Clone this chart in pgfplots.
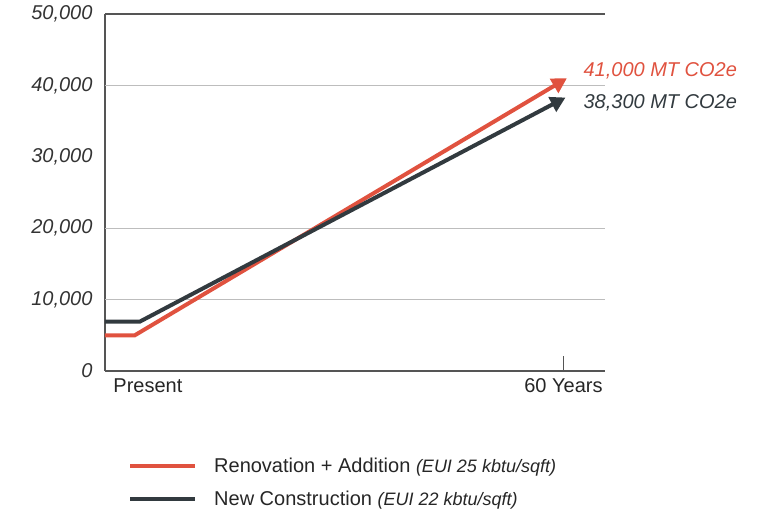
\documentclass[border=0pt]{standalone}
\usepackage{fontspec}
\setmainfont{Liberation Sans}
\usepackage{pgfplots}
\pgfplotsset{compat=1.18}
\usetikzlibrary{arrows.meta}

\definecolor{renred}{HTML}{E0523F}
\definecolor{newdark}{HTML}{323A3F}
\definecolor{gridgray}{HTML}{BDBDBD}
\definecolor{axisgray}{HTML}{555555}

\begin{document}
\begin{tikzpicture}
\begin{axis}[
  name=ax,
  scale only axis,
  width=500pt, height=357pt,
  xmin=-6.2, xmax=66, ymin=0, ymax=50000,
  axis x line=bottom, axis y line=left,
  axis line style={axisgray, line width=1.5pt, -},
  xtick={0,60}, xticklabels={Present,60 Years},
  x tick label style={font=\fontsize{20}{24}\selectfont, text=black!85, yshift=-4pt},
  major tick length=0pt,
  extra x ticks={60}, extra x tick labels={},
  extra x tick style={major tick length=15pt, tick style={axisgray, line width=1pt}, tick align=inside},
  scaled y ticks=false,
  ytick={0,10000,...,50000},
  yticklabels={0,{10,000},{20,000},{30,000},{40,000},{50,000}},
  y tick label style={font=\fontsize{20}{24}\selectfont\itshape, text=black!80, xshift=-9pt},
  extra y ticks={10000,20000,40000},
  extra y tick labels={},
  extra y tick style={grid=major, major grid style={gridgray, line width=1pt}},
  clip=false,
  legend style={at={(axis description cs:0.04,-0.232)}, anchor=north west, draw=none, fill=none,
    font=\fontsize{20}{24}\selectfont, row sep=13pt, text=black!85},
  legend cell align=left,
  legend image code/.code={
    \draw[#1, arrows=-] (0pt,0pt) -- (65pt,0pt);
    \draw[draw=none, fill=none, arrows=-] (65pt,0pt) -- (82pt,0pt);},
]
\draw[axisgray, line width=1.5pt] (axis cs:-6.2,50000) -- (axis cs:66,50000);

\addplot[renred, line width=4pt, -{Triangle[length=15pt,width=16pt]}] coordinates {
  (-6.2, 5000) (-1.9, 5000) (60.5, 41000)
};
\addlegendentry{Renovation + Addition {\fontsize{18}{20}\selectfont\itshape (EUI 25 kbtu/sqft)}}

\addplot[newdark, line width=4pt, -{Triangle[length=15pt,width=16pt]}] coordinates {
  (-6.2, 6900) (-1.2, 6900) (60.3, 38300)
};
\addlegendentry{New Construction {\fontsize{18}{20}\selectfont\itshape (EUI 22 kbtu/sqft)}}

\node[anchor=west, text=renred, font=\fontsize{20}{24}\selectfont\itshape] at (axis cs:62.4,42000) {41,000 MT CO2e};
\node[anchor=west, text=newdark, font=\fontsize{20}{24}\selectfont\itshape] at (axis cs:62.4,37600) {38,300 MT CO2e};
\end{axis}
\path ([xshift=-105pt,yshift=-143pt]ax.south west) rectangle ([xshift=169pt,yshift=14pt]ax.north east);
\end{tikzpicture}
\end{document}
